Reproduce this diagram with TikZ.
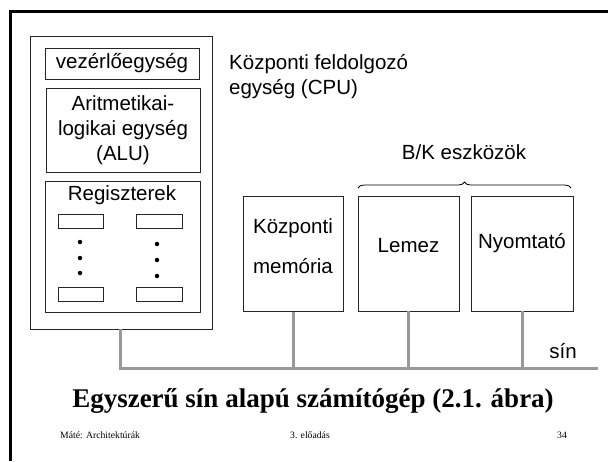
\documentclass[tikz,border=0pt]{standalone}
\usepackage{fontspec}
\setmainfont{Liberation Serif}
\newfontfamily\arial{Liberation Sans}
\usetikzlibrary{decorations.pathreplacing}
\begin{document}
\begin{tikzpicture}[x=1pt,y=-1pt,
  box/.style={draw=black!85,line width=0.8pt},
  bus/.style={draw=black!40,line width=3pt},
  lbl/.style={font=\arial\fontsize{20.5}{25}\selectfont,inner sep=0pt},
  reg/.style={draw=black!85,line width=0.8pt},
  dot/.style={fill=black,circle,inner sep=0pt,minimum size=4.5pt}]
\useasboundingbox (0,0) rectangle (608,461);
% slide frame
\draw[line width=3pt] (10,461) -- (10,11) -- (608,11);
% CPU
\draw[box] (30,36) rectangle (212,329);
\node[box,minimum width=154pt,minimum height=31pt,inner sep=0pt,lbl] (ctl) at (122,63.5) {vezérlőegység};
\draw[box] (46,88) rectangle (200,172);
\node[lbl,align=center] (alu) at (123,130) {Aritmetikai-\\logikai egység\\(ALU)};
\draw[box] (45,181) rectangle (200,312);
\node[lbl] (regs) at (122,195) {Regiszterek};
\draw[reg] (58,214) rectangle (103,228);
\draw[reg] (136,214) rectangle (182,228);
\draw[reg] (58,287) rectangle (103,301);
\draw[reg] (136,287) rectangle (182,301);
\foreach \y in {242,258,273} \node[dot] at (80,\y) {};
\foreach \y in {244,260,276} \node[dot] at (157,\y) {};
\node[lbl,align=left,anchor=north west] (cpu) at (229,54) {Központi feldolgozó\\egység (CPU)};
% memory and IO
\node[box,minimum width=100pt,minimum height=115pt,inner sep=0pt] (mem) at (293,254) {};
\node[lbl] at (293,228) {Központi};
\node[lbl] at (293,266) {memória};
\node[box,minimum width=101pt,minimum height=115pt,inner sep=0pt] (disk) at (408.5,253.5) {};
\node[lbl] at (408.5,246) {Lemez};
\node[box,minimum width=102pt,minimum height=115pt,inner sep=0pt] (prn) at (522,253.5) {};
\node[lbl] at (522,243) {Nyomtató};
\draw[line width=0.8pt,decorate,decoration={brace,amplitude=6pt}] (358,188) -- (571,188);
\node[lbl] (bk) at (464,152) {B/K eszközök};
% bus
\coordinate (cpub) at (120,329);
\coordinate (busl) at (120,368);
\coordinate (busr) at (598,368);
\draw[bus] (cpub) -- (busl) -- (busr);
\draw[bus] (mem.south) -- (mem.south |- busl);
\draw[bus] (disk.south) -- (disk.south |- busl);
\draw[bus] (prn.south) -- (prn.south |- busl);
\node[lbl] (sin) at (563,351) {sín};
% title and footer
\node[font=\bfseries\fontsize{27}{32}\selectfont,inner sep=0pt] (title) at (313,401) {Egyszerű sín alapú számítógép (2.1. ábra)};
\node[font=\fontsize{9.7}{12}\selectfont,anchor=base west,inner sep=0pt] (f1) at (60,438) {Máté: Architektúrák};
\node[font=\fontsize{9.7}{12}\selectfont,anchor=base west,inner sep=0pt] (f2) at (290,438) {3. előadás};
\node[font=\fontsize{9.7}{12}\selectfont,anchor=base west,inner sep=0pt] (f3) at (557,438) {34};
\end{tikzpicture}
\end{document}
